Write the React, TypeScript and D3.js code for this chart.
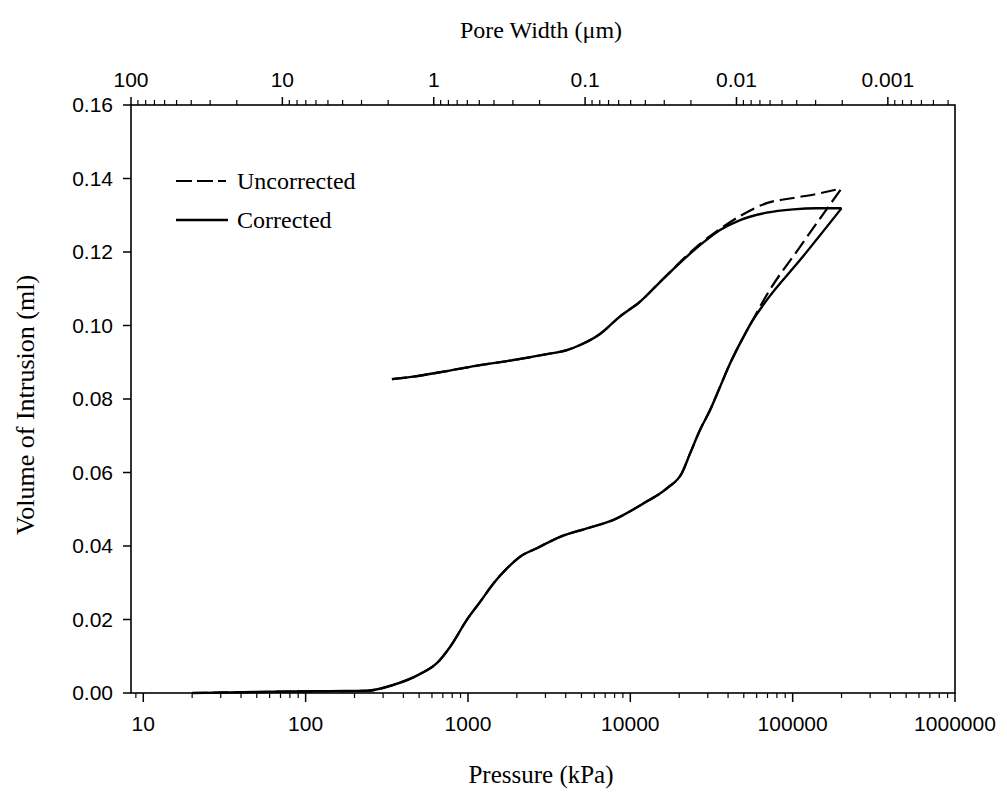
import React from "react";
import * as d3 from "d3";

// Pressure (kPa) along the intrusion branch
const intrusionPressure = [20, 40, 80, 142, 238, 347, 508, 643, 777, 984, 1188, 1435, 1737, 2096, 2655, 3698, 5400, 7870, 12050, 16790, 20750, 23350, 26900, 31000, 35700, 41200, 47500, 56000, 69200, 111000, 200000];
const intrusionCorrected = [0, 0.0002, 0.0004, 0.0005, 0.0006, 0.0022, 0.0052, 0.0081, 0.0126, 0.0199, 0.0248, 0.0298, 0.0339, 0.0371, 0.0394, 0.0425, 0.0448, 0.0471, 0.0516, 0.0557, 0.0598, 0.0652, 0.0716, 0.0770, 0.0833, 0.0897, 0.0952, 0.1010, 0.1069, 0.1178, 0.1319];
const intrusionUncorrected = [0, 0.0002, 0.0004, 0.0005, 0.0006, 0.0022, 0.0052, 0.0081, 0.0126, 0.0199, 0.0248, 0.0298, 0.0339, 0.0371, 0.0394, 0.0425, 0.0448, 0.0471, 0.0516, 0.0557, 0.0598, 0.0652, 0.0716, 0.0770, 0.0833, 0.0897, 0.0952, 0.1010, 0.1083, 0.1214, 0.1373];

// Pressure (kPa) along the extrusion branch
const extrusionPressure = [200000, 140600, 100900, 69200, 47500, 35700, 26900, 15280, 11490, 8650, 6510, 4910, 4065, 3060, 1907, 1188, 741, 461, 340];
const extrusionCorrected = [0.1319, 0.1319, 0.1316, 0.1307, 0.1287, 0.1260, 0.1219, 0.1119, 0.1065, 0.1025, 0.0977, 0.0947, 0.0933, 0.0922, 0.0906, 0.0892, 0.0876, 0.0861, 0.0854];
const extrusionUncorrected = [0.1373, 0.1358, 0.1347, 0.1333, 0.1298, 0.1263, 0.1222, 0.1119, 0.1065, 0.1025, 0.0977, 0.0947, 0.0933, 0.0922, 0.0906, 0.0892, 0.0876, 0.0861, 0.0854];

const pressureTicks = [10, 100, 1000, 10000, 100000, 1000000];
const poreTicks = [100, 10, 1, 0.1, 0.01, 0.001];
const poreTickLabels = ["100", "10", "1", "0.1", "0.01", "0.001"];
const volumeTicks = [0, 0.02, 0.04, 0.06, 0.08, 0.1, 0.12, 0.14, 0.16];

const W = 1007;
const H = 796;
const L = 131, R = 955, T = 105, B = 693;

const sans = "'Liberation Sans', Arial, sans-serif";
const serif = "'Liberation Serif', 'Times New Roman', serif";

export default function App() {
  const x = d3.scaleLog().domain([8.4, 1000000]).range([L, R]);
  const xTop = d3.scaleLog().domain([100, 0.00036]).range([L, R]);
  const y = d3.scaleLinear().domain([0, 0.16]).range([B, T]);

  const line = d3
    .line<[number, number]>()
    .x((d) => x(d[0]))
    .y((d) => y(d[1]))
    .curve(d3.curveMonotoneX);

  const zip = (ps: number[], vs: number[]) => ps.map((p, i) => [p, vs[i]] as [number, number]);

  const corrIn = line(zip(intrusionPressure, intrusionCorrected)) || "";
  const corrOut = line(zip(extrusionPressure, extrusionCorrected).slice().reverse()) || "";
  const uncIn = line(zip(intrusionPressure, intrusionUncorrected)) || "";
  const uncOut = line(zip(extrusionPressure, extrusionUncorrected).slice().reverse()) || "";

  const [xd0, xd1] = x.domain();
  const minorBottom: number[] = [];
  for (let e = 0; e <= 5; e++) {
    for (let m = 2; m <= 9; m++) {
      const v = m * Math.pow(10, e);
      if (v >= xd0 && v <= xd1) minorBottom.push(v);
    }
  }
  const minorTop: number[] = [];
  for (let e = -4; e <= 1; e++) {
    for (let m = 2; m <= 9; m++) {
      const v = m * Math.pow(10, e);
      if (v >= 0.00036 && v <= 100) minorTop.push(v);
    }
  }

  const axisStroke = "#000";

  return (
    <svg width={W} height={H} style={{ position: "absolute", left: 0, top: 0, background: "#fff" }}>
      <rect x={0} y={0} width={W} height={H} fill="#fff" />
      {/* frame */}
      <rect x={L} y={T} width={R - L} height={B - T} fill="none" stroke={axisStroke} strokeWidth={1.6} />

      {/* bottom ticks */}
      {pressureTicks.map((t) => (
        <g key={"bt" + t}>
          <line x1={x(t)} x2={x(t)} y1={B} y2={B + 9} stroke={axisStroke} strokeWidth={1.5} />
          <text x={x(t)} y={731} textAnchor="middle" fontFamily={sans} fontSize={21}>
            {String(t)}
          </text>
        </g>
      ))}
      {minorBottom.map((t) => (
        <line key={"bm" + t} x1={x(t)} x2={x(t)} y1={B} y2={B + 5} stroke={axisStroke} strokeWidth={1.2} />
      ))}

      {/* top ticks */}
      {poreTicks.map((t, i) => (
        <g key={"tt" + t}>
          <line x1={xTop(t)} x2={xTop(t)} y1={T} y2={T - 8} stroke={axisStroke} strokeWidth={1.5} />
          <text x={xTop(t)} y={87} textAnchor="middle" fontFamily={sans} fontSize={21}>
            {poreTickLabels[i]}
          </text>
        </g>
      ))}
      {minorTop.map((t) => (
        <line key={"tm" + t} x1={xTop(t)} x2={xTop(t)} y1={T} y2={T - 5} stroke={axisStroke} strokeWidth={1.2} />
      ))}

      {/* left ticks */}
      {volumeTicks.map((t) => (
        <g key={"yt" + t}>
          <line x1={L - 8} x2={L} y1={y(t)} y2={y(t)} stroke={axisStroke} strokeWidth={1.5} />
          <text x={113} y={y(t) + 7} textAnchor="end" fontFamily={sans} fontSize={21}>
            {t.toFixed(2)}
          </text>
        </g>
      ))}

      {/* curves */}
      <path d={corrIn} fill="none" stroke="#000" strokeWidth={2.4} />
      <path d={corrOut} fill="none" stroke="#000" strokeWidth={2.4} />
      <path d={uncIn} fill="none" stroke="#000" strokeWidth={2.2} strokeDasharray="15 6" />
      <path d={uncOut} fill="none" stroke="#000" strokeWidth={2.2} strokeDasharray="15 6" />

      {/* legend */}
      <line x1={176} x2={226} y1={181} y2={181} stroke="#000" strokeWidth={2.2} strokeDasharray="16 5" />
      <text x={237} y={189} fontFamily={serif} fontSize={24}>Uncorrected</text>
      <line x1={176} x2={228} y1={220} y2={220} stroke="#000" strokeWidth={2.4} />
      <text x={237} y={228} fontFamily={serif} fontSize={24}>Corrected</text>

      {/* axis titles */}
      <text x={541} y={38} textAnchor="middle" fontFamily={serif} fontSize={24}>Pore Width (μm)</text>
      <text x={541} y={783} textAnchor="middle" fontFamily={serif} fontSize={25}>Pressure (kPa)</text>
      <text
        transform={`translate(34, ${(T + B) / 2 + 6}) rotate(-90)`}
        textAnchor="middle"
        fontFamily={serif}
        fontSize={26}
      >
        Volume of Intrusion (ml)
      </text>
    </svg>
  );
}
